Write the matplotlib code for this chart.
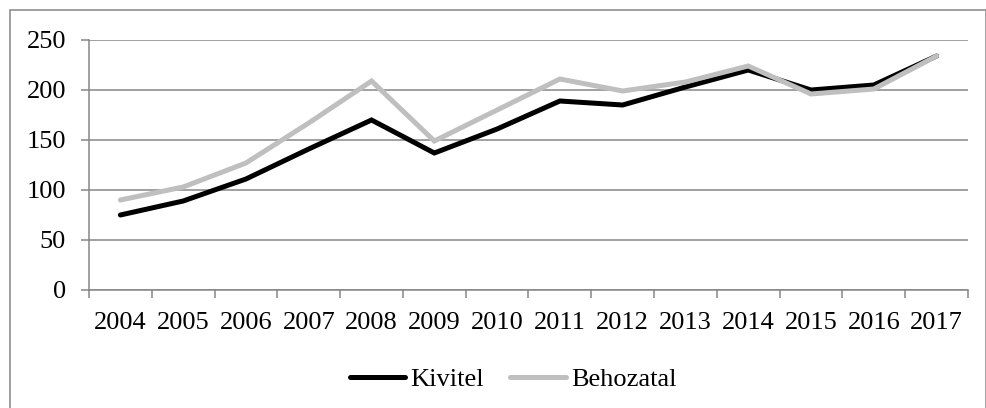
import matplotlib.pyplot as plt
from matplotlib.patches import Rectangle
from matplotlib.ticker import FixedLocator

# adatok
evek = ['2004', '2005', '2006', '2007', '2008', '2009', '2010',
        '2011', '2012', '2013', '2014', '2015', '2016', '2017']
kivitel = [75, 89, 111, 141, 170, 137, 161, 189, 185, 203, 220, 200, 205, 234]
behozatal = [90, 103, 127, 167, 209, 149, 180, 211, 199, 208, 224, 196, 201, 234]
y_ticks = [0, 50, 100, 150, 200, 250]

plt.rcParams['font.family'] = ['Liberation Serif', 'DejaVu Serif']
fs = 19

fig = plt.figure(figsize=(9.87, 4.08), dpi=100)
ax = fig.add_axes([89/987, 118/408, 879/987, 250/408])

x = list(range(len(evek)))
ax.plot(x, kivitel, color='black', lw=3.6, solid_capstyle='round',
        solid_joinstyle='miter', label='Kivitel', zorder=3)
ax.plot(x, behozatal, color='#bfbfbf', lw=3.6, solid_capstyle='round',
        solid_joinstyle='miter', label='Behozatal', zorder=4)

ax.set_xlim(-0.5, len(evek) - 0.5)
ax.set_ylim(0, 250)
ax.set_yticks(y_ticks)
ax.set_yticklabels([str(v) for v in y_ticks], fontsize=fs)
ax.set_xticks(x)
ax.set_xticklabels(evek, fontsize=fs)
ax.xaxis.set_minor_locator(FixedLocator([i - 0.5 for i in range(len(evek) + 1)]))

ax.grid(axis='y', color='#868686', lw=1.1, zorder=1)
ax.tick_params(axis='x', which='major', length=0, pad=16)
ax.tick_params(axis='x', which='minor', length=5.5, color='#868686', width=1.1)
ax.tick_params(axis='y', length=5.5, color='#868686', width=1.1, pad=11)

for s in ['top', 'right']:
    ax.spines[s].set_visible(False)
for s in ['left', 'bottom']:
    ax.spines[s].set_color('#868686')
    ax.spines[s].set_linewidth(1.1)

leg = fig.legend(loc='center', bbox_to_anchor=(513/987, 1 - 379/408), ncol=2,
                 frameon=False, fontsize=fs, handlelength=2.1,
                 handletextpad=0.2, columnspacing=1.0)

# keret
fig.patches.append(Rectangle((9.5/987, -0.05), (986 - 9.5)/987, 1.05 - 10.5/408,
                             transform=fig.transFigure, fill=False,
                             edgecolor='#868686', lw=1.1))

fig.savefig('out.png', dpi=100)
